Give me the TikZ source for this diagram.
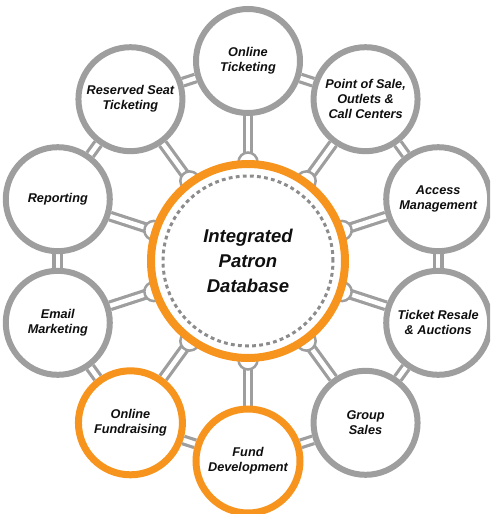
\documentclass[tikz,border=0pt]{standalone}
\usepackage{fontspec}
\setmainfont{Liberation Sans}
\usetikzlibrary{calc}
\definecolor{ringgray}{RGB}{158,158,158}
\definecolor{dotgray}{RGB}{140,140,140}
\definecolor{ringorange}{RGB}{247,148,29}
\definecolor{txt}{RGB}{15,15,15}
\pgfdeclarelayer{bg}
\pgfdeclarelayer{mid}
\pgfsetlayers{bg,mid,main}
\begin{document}
\begin{tikzpicture}[x=1pt,y=1pt,
 sat/.style={circle, draw=ringgray, line width=6pt, fill=white, minimum size=104pt, inner sep=0pt, align=center, font=\fontsize{12.7}{15}\selectfont\bfseries\itshape, text=txt},
 hot/.style={sat, draw=ringorange, line width=7pt},
 hub/.style={circle, draw=ringorange, line width=8pt, fill=white, minimum size=194pt, inner sep=0pt, align=center, font=\fontsize{18.5}{25}\selectfont\bfseries\itshape, text=txt},
 knob/.style={circle, draw=ringgray, line width=2.5pt, fill=white, minimum size=19pt, inner sep=0pt},
 link/.style={draw=ringgray, line width=3.2pt, double=white, double distance=4.5pt},
]
\useasboundingbox (0,-514) rectangle (490,0);
\clip (0,-514) rectangle (490,0);
\coordinate (C) at (248,-261);
\node[hub] (hub) at (C) {Integrated\\Patron\\Database};
\draw[dotgray, line width=3pt, dash pattern=on 3.8pt off 3.3pt] (hub.center) circle (85);

\node[sat] (s1) at ($(C)+(90:200)$) {Online\\Ticketing};
\node[sat] (s2) at ($(C)+(54:200)$) {Point of Sale,\\Outlets \&\\Call Centers};
\node[sat] (s3) at ($(C)+(18:200)$) {Access\\Management};
\node[sat] (s4) at ($(C)+(-18:200)$) {Ticket Resale\\\& Auctions};
\node[sat] (s5) at ($(C)+(-54:200)$) {Group\\Sales};
\node[hot] (s6) at ($(C)+(-90:200)$) {Fund\\Development};
\node[hot] (s7) at ($(C)+(-126:200)$) {Online\\Fundraising};
\node[sat] (s8) at ($(C)+(-162:200)$) {Email\\Marketing};
\node[sat] (s9) at ($(C)+(162:200)$) {Reporting};
\node[sat] (s10) at ($(C)+(126:200)$) {Reserved Seat\\Ticketing};

\begin{pgfonlayer}{mid}
\foreach \i/\a in {1/90,2/54,3/18,4/-18,5/-54,6/-90,7/-126,8/-162,9/162,10/126}{
  \node[knob] (k\i) at ($(C)+(\a:99)$) {};
}
\end{pgfonlayer}

\begin{pgfonlayer}{bg}
\foreach \i in {1,...,10}{
  \draw[link] (k\i.center) -- (s\i);
}
\foreach \i/\j in {1/2,2/3,3/4,4/5,5/6,6/7,7/8,8/9,9/10,10/1}{
  \draw[link] (s\i) -- (s\j);
}
\end{pgfonlayer}
\end{tikzpicture}
\end{document}
